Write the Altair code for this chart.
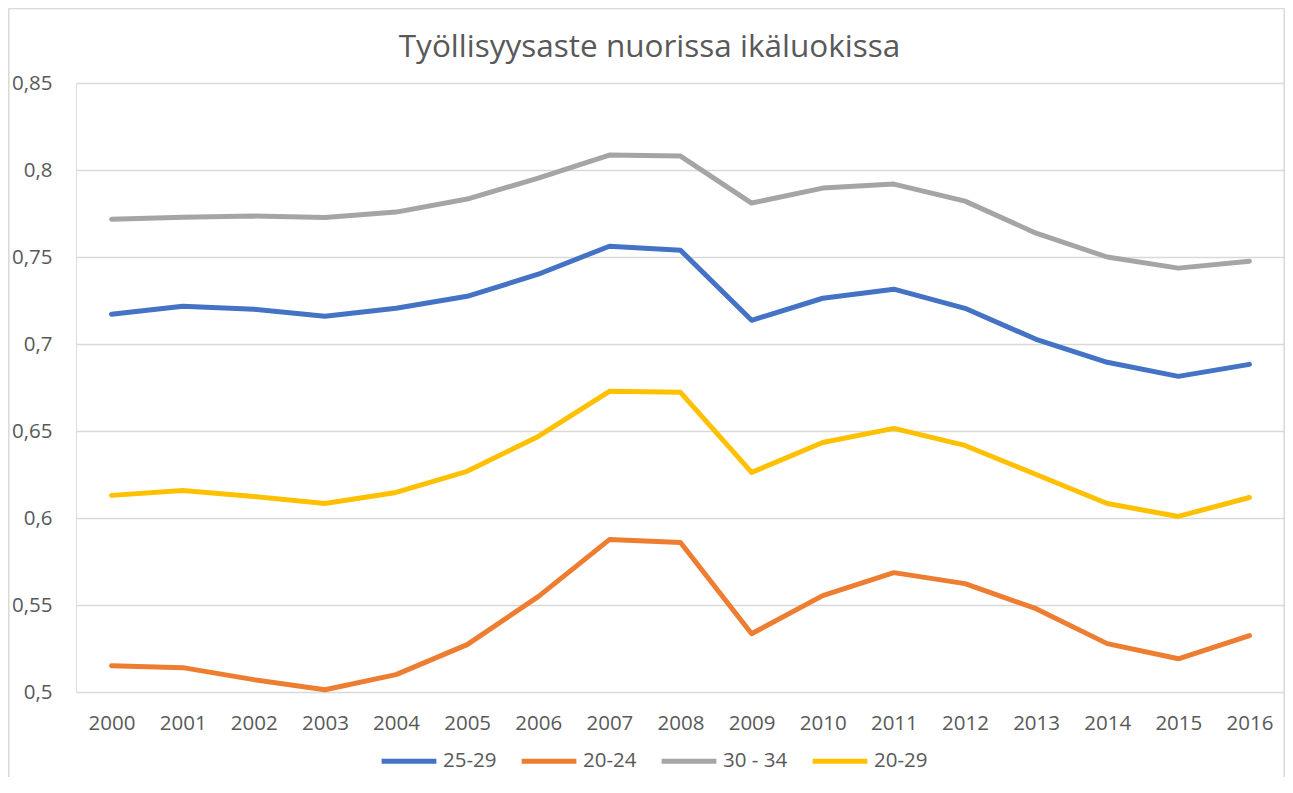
import altair as alt
import pandas as pd

years = [str(y) for y in range(2000, 2017)]
series = ["25-29", "20-24", "30 - 34", "20-29"]
colors = ["#4472C4", "#ED7D31", "#A5A5A5", "#FFC000"]

v_25_29 = [0.7171, 0.7217, 0.7200, 0.7160, 0.7205, 0.7274, 0.7401, 0.7562, 0.7539,
           0.7136, 0.7263, 0.7315, 0.7205, 0.7027, 0.6895, 0.6814, 0.6883]
v_20_24 = [0.5151, 0.5140, 0.5071, 0.5013, 0.5100, 0.5272, 0.5548, 0.5876, 0.5859,
           0.5335, 0.5554, 0.5686, 0.5623, 0.5479, 0.5278, 0.5191, 0.5324]
v_30_34 = [0.7717, 0.7729, 0.7735, 0.7727, 0.7758, 0.7833, 0.7953, 0.8086, 0.8080,
           0.7810, 0.7896, 0.7919, 0.7821, 0.7637, 0.7500, 0.7436, 0.7476]
v_20_29 = [0.6130, 0.6158, 0.6124, 0.6083, 0.6147, 0.6268, 0.6469, 0.6728, 0.6722,
           0.6262, 0.6434, 0.6515, 0.6417, 0.6250, 0.6083, 0.6009, 0.6118]

y_ticks = [0.5, 0.55, 0.6, 0.65, 0.7, 0.75, 0.8, 0.85]

rows = []
for name, vals in zip(series, [v_25_29, v_20_24, v_30_34, v_20_29]):
    for yr, v in zip(years, vals):
        rows.append({"Vuosi": yr, "Ryhmä": name, "Arvo": v})
df = pd.DataFrame(rows)

FONT = "Open Sans"
TXT = "#595959"
GRID = "#D9D9D9"
W = 1209

lines = alt.Chart(df).mark_line(strokeWidth=5, strokeCap="round", strokeJoin="round").encode(
    x=alt.X("Vuosi:N", sort=years, title=None,
            scale=alt.Scale(type="point", padding=0.5),
            axis=alt.Axis(labelAngle=0, domain=False, ticks=False, tickSize=0, grid=False,
                          labelPadding=21, labelFont=FONT, labelFontSize=20.5, labelColor=TXT)),
    y=alt.Y("Arvo:Q", title=None,
            scale=alt.Scale(domain=[0.5, 0.85], nice=False, zero=False),
            axis=alt.Axis(values=y_ticks, domain=False, ticks=False, tickSize=0,
                          gridColor=GRID, gridWidth=1.3, labelPadding=24,
                          labelExpr="replace(format(datum.value, '.2~f'), '.', ',')",
                          labelFont=FONT, labelFontSize=20.5, labelColor=TXT)),
    color=alt.Color("Ryhmä:N", sort=series,
                    scale=alt.Scale(domain=series, range=colors),
                    legend=alt.Legend(title=None, orient="none", direction="horizontal",
                                      legendX=303, legendY=648, padding=0,
                                      symbolType="stroke", symbolSize=3000, symbolStrokeWidth=5,
                                      labelOffset=4, columnPadding=14,
                                      labelFont=FONT, labelFontSize=20.5, labelColor=TXT)),
    order=alt.Order("Vuosi:N"),
)

border_df = pd.DataFrame({"k": [0]})
frame_left = alt.Chart(border_df).mark_rule(color=GRID, strokeWidth=1.5).encode(
    x=alt.value(-67.2), y=alt.value(-74.5), y2=alt.value(700))
frame_top = alt.Chart(border_df).mark_rule(color=GRID, strokeWidth=1.5).encode(
    x=alt.value(-67.2), x2=alt.value(W - 0.8), y=alt.value(-74.5))
frame_right = alt.Chart(border_df).mark_rule(color=GRID, strokeWidth=1.5).encode(
    x=alt.value(W - 0.8), y=alt.value(-74.5), y2=alt.value(700))

chart = alt.layer(lines, frame_left, frame_top, frame_right).properties(
    width=W, height=609,
    title=alt.Title("Työllisyysaste nuorissa ikäluokissa", font=FONT, fontSize=31.5,
                    fontWeight="normal", color=TXT, anchor="middle", frame="group",
                    dx=-31, baseline="alphabetic", offset=-81),
    autosize=alt.AutoSizeParams(type="none"),
    padding={"left": 68, "top": 75, "right": 0, "bottom": 85},
).configure_view(stroke=None).configure(background="white")

chart.save("out.html", embed_options={"renderer": "svg", "actions": False})
